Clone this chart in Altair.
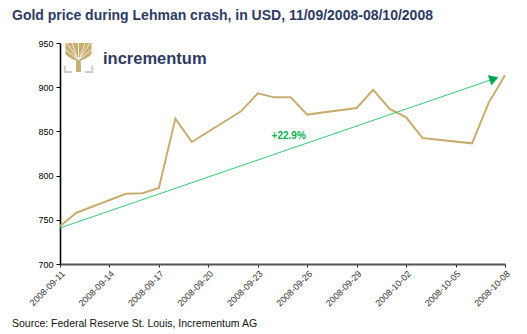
import altair as alt
import pandas as pd

# Gold price (USD), London fix
dates = ["2008-09-11", "2008-09-12", "2008-09-15", "2008-09-16", "2008-09-17",
         "2008-09-18", "2008-09-19", "2008-09-22", "2008-09-23", "2008-09-24",
         "2008-09-25", "2008-09-26", "2008-09-29", "2008-09-30", "2008-10-01",
         "2008-10-02", "2008-10-03", "2008-10-06", "2008-10-07", "2008-10-08"]
prices = [743.0, 758.0, 779.5, 780.0, 786.0,
          864.5, 838.0, 873.0, 893.0, 888.5,
          888.5, 869.0, 876.5, 897.0, 875.5,
          866.0, 842.5, 836.5, 882.0, 913.5]

arrow_dates = ["2008-09-11T00:00:00Z", "2008-10-07T08:00:00Z"]
arrow_values = [740.75, 909.5]
change_label = "+22.9%"
label_date = "2008-09-24T21:00:00Z"
label_value = 844.5

tick_dates = ["2008-09-11", "2008-09-14", "2008-09-17", "2008-09-20", "2008-09-23",
              "2008-09-26", "2008-09-29", "2008-10-02", "2008-10-05", "2008-10-08"]
y_ticks = [700, 750, 800, 850, 900, 950]

title_text = "Gold price during Lehman crash, in USD, 11/09/2008-08/10/2008"
source_text = "Source: Federal Reserve St. Louis, Incrementum AG"
logo_text = "incrementum"

GOLD = "#C8AD70"
NAVY = "#2D3A64"
FONT = "Liberation Sans"

df = pd.DataFrame({"date": [d + "T00:00:00Z" for d in dates], "price": prices})
arrow_df = pd.DataFrame({"date": arrow_dates, "price": arrow_values})
head_df = arrow_df.iloc[[1]]
label_df = pd.DataFrame({"date": [label_date], "price": [label_value], "t": [change_label]})


def dt(s):
    y, m, d = s.split("-")
    return alt.DateTime(year=int(y), month=int(m), date=int(d), utc=True)


xscale = alt.Scale(type="utc", domain=[dt("2008-09-11"), dt("2008-10-08")])
yscale = alt.Scale(domain=[700, 950], nice=False, zero=False)

x_enc = alt.X("date:T", scale=xscale, title=None,
              axis=alt.Axis(values=[dt(d) for d in tick_dates],
                            labelExpr="utcFormat(datum.value, '%Y-%m-%d')",
                            labelAngle=-45, labelFontSize=9,
                            labelColor="#333333", labelFont=FONT, grid=False,
                            domainColor="#555555", domainWidth=2, tickColor="#222222",
                            tickSize=3, labelPadding=2, labelFlush=False,
                            labelOverlap=False))
y_enc = alt.Y("price:Q", scale=yscale, title=None,
              axis=alt.Axis(values=y_ticks, labelFontSize=9, labelColor="#000000",
                            labelFont=FONT, grid=False, domainColor="#000000",
                            domainWidth=1.6, tickColor="#000000", tickSize=4,
                            labelPadding=3))

gold_line = alt.Chart(df).mark_line(color=GOLD, strokeWidth=2).encode(x=x_enc, y=y_enc)

arrow_line = alt.Chart(arrow_df).mark_line(color="#2ECC71", strokeWidth=1).encode(
    x="date:T", y="price:Q")
arrow_head = alt.Chart(head_df).mark_point(
    shape="triangle-up", filled=True, color="#00A651", size=115, angle=71, opacity=1
).encode(x="date:T", y="price:Q")

pct_label = alt.Chart(label_df).mark_text(
    font=FONT, fontSize=10, fontWeight="bold", color="#00B050"
).encode(x="date:T", y="price:Q", text="t:N")

one = pd.DataFrame({"a": [0]})

tree_path = ("M-0.9,-1 L-0.9,-0.25 C-0.6,0.1 -0.25,0.1 -0.15,0.25 L-0.18,1 L0.18,1 "
             "L0.15,0.25 C0.25,0.1 0.6,0.1 0.9,-0.25 L0.9,-1 Z")
tree = alt.Chart(one).mark_point(shape=tree_path, filled=True, color=GOLD, opacity=1,
                                 size=841).encode(x=alt.value(18.5), y=alt.value(14.5))
branches_path = ("M0,0.2 L0,-1 M-0.05,0.15 L-0.45,-1 M0.05,0.15 L0.45,-1 "
                 "M-0.1,0.1 L-0.9,-0.55")
branches = alt.Chart(one).mark_point(shape=branches_path, filled=False, color="white",
                                     strokeWidth=0.8, opacity=1, size=841).encode(
    x=alt.value(18.5), y=alt.value(14.5))
branches2 = alt.Chart(one).mark_point(shape="M0.1,0.1 L0.9,-0.55 M-0.05,0.1 L-0.8,-1 M0.05,0.1 L0.8,-1",
                                      filled=False, color="white",
                                      strokeWidth=0.8, opacity=1, size=841).encode(
    x=alt.value(18.5), y=alt.value(14.5))
bracket_path = "M-0.95,0.55 L-0.95,1 L-0.45,1 M0.45,1 L0.95,1 L0.95,0.55"
brackets = alt.Chart(one).mark_point(shape=bracket_path, filled=False, color="#CCCCCC",
                                     strokeWidth=2, opacity=1, size=841).encode(
    x=alt.value(18.5), y=alt.value(14.5))

logo = alt.Chart(one).mark_text(text=logo_text, font=FONT, fontSize=16.5,
                                fontWeight="bold", color=NAVY,
                                align="left", baseline="alphabetic").encode(
    x=alt.value(43), y=alt.value(21))

title = alt.Chart(one).mark_text(text=title_text, font=FONT, fontSize=14,
                                 fontWeight="bold", color=NAVY, align="left",
                                 baseline="alphabetic").encode(
    x=alt.value(-48), y=alt.value(-23))
source = alt.Chart(one).mark_text(text=source_text, font=FONT, fontSize=10.5,
                                  color="#111111", align="left",
                                  baseline="alphabetic").encode(
    x=alt.value(-48), y=alt.value(284))

chart = alt.layer(gold_line, arrow_line, arrow_head, pct_label, tree, branches, branches2,
                  brackets, logo, title, source).properties(
    width=445, height=221, autosize="none",
    padding={"left": 60, "top": 43, "right": 22, "bottom": 70},
    background="white"
).configure_view(stroke=None)

chart.save("out.html", embed_options={"renderer": "svg", "actions": False})
